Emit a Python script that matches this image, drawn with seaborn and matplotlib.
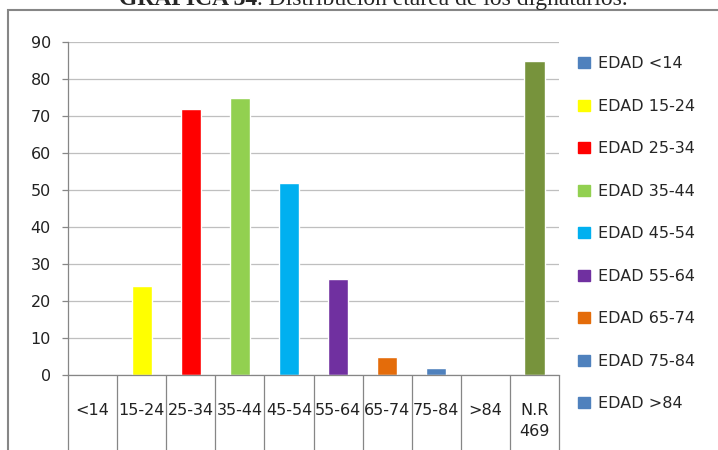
import matplotlib
matplotlib.use('Agg')
import matplotlib.pyplot as plt
import matplotlib.patches as mpatches
import seaborn as sns
import pandas as pd

categories = ['<14', '15-24', '25-34', '35-44', '45-54', '55-64', '65-74', '75-84', '>84', 'N.R\n469']
values = [0, 24, 72, 75, 52, 26, 5, 2, 0, 85]
colors = ['#4F81BD', '#FFFF00', '#FF0000', '#92D050', '#00B0F0', '#7030A0', '#E46C0A', '#4F81BD', '#4F81BD', '#77933C']
legend_labels = ['EDAD <14', 'EDAD 15-24', 'EDAD 25-34', 'EDAD 35-44', 'EDAD 45-54',
                 'EDAD 55-64', 'EDAD 65-74', 'EDAD 75-84', 'EDAD >84']

df = pd.DataFrame({'cat': categories, 'val': values})

sns.set_style('white')
plt.rcParams['font.family'] = ['Liberation Sans Narrow', 'DejaVu Sans']

fig = plt.figure(figsize=(7.18, 4.5), dpi=100)
ax = fig.add_axes([68 / 718, 1 - 375 / 450, (559 - 68) / 718, (375 - 42) / 450])

sns.barplot(data=df, x='cat', y='val', hue='cat', palette=colors, legend=False,
            width=0.41, saturation=1, ax=ax)

ax.set_ylim(0, 90)
ax.set_xlim(-0.5, len(categories) - 0.5)
ax.set_yticks(range(0, 91, 10))
ax.yaxis.grid(True, color='#BFBFBF', linewidth=0.9)
ax.set_axisbelow(True)
ax.set_xlabel('')
ax.set_ylabel('')

for s in ['top', 'right']:
    ax.spines[s].set_visible(False)
for s in ['left', 'bottom']:
    ax.spines[s].set_color('#868686')
    ax.spines[s].set_linewidth(0.9)

ax.tick_params(axis='y', which='major', length=4.3, width=0.9, color='#868686',
               pad=8, labelsize=11.5, labelcolor='#222222', left=True)
ax.tick_params(axis='x', which='major', length=0, pad=20, labelsize=11.5, labelcolor='#222222')
ax.set_xticks(range(len(categories)))
ax.set_xticklabels(categories, va='top', linespacing=1.5)
ax.set_xticks([i - 0.5 for i in range(len(categories) + 1)], minor=True)
ax.tick_params(axis='x', which='minor', length=56, width=0.9, color='#868686', bottom=True)

handles = [mpatches.Patch(color=c) for c in colors[:9]]
fig.legend(handles, legend_labels, loc='upper left', bbox_to_anchor=(572 / 718, 1 - 50 / 450),
           frameon=False, fontsize=11.5, handlelength=0.7, handleheight=0.7,
           handletextpad=0.5, labelspacing=1.72, borderaxespad=0)

# outer chart border
fig.add_artist(mpatches.Rectangle((8 / 718, -0.05), 1.0, 1 - 10 / 450 + 0.05,
                                  transform=fig.transFigure, fill=False,
                                  edgecolor='#868686', linewidth=1.5))

# title, cut off at the top like in the source image
fig.text(257 / 718, 1 - 5 / 450, 'GRAFICA 34', ha='right', va='baseline',
         fontsize=17, fontweight='bold', family='Liberation Serif')
fig.text(257 / 718, 1 - 5 / 450, '. Distribución etárea de los dignatarios.', ha='left',
         va='baseline', fontsize=17, family='Liberation Serif')

fig.savefig('out.png', dpi=100)
